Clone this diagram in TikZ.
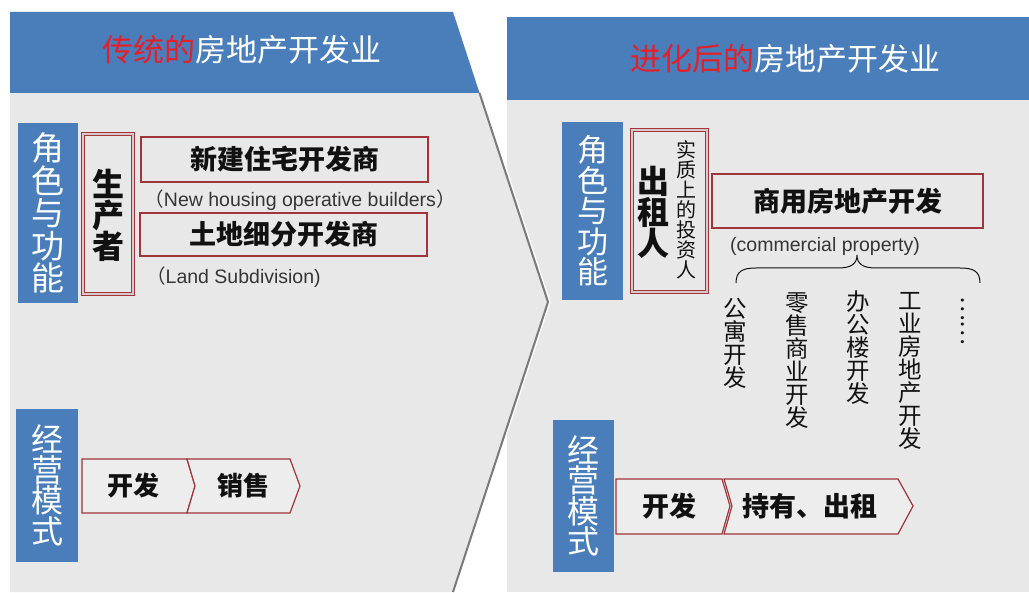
\documentclass[tikz,border=0pt]{standalone}
\usepackage{fontspec}
\setmainfont{Noto Sans CJK SC}
\newfontfamily\en{Liberation Sans}
\definecolor{hblue}{HTML}{4A7EBB}
\definecolor{bg}{HTML}{E8E8E8}
\definecolor{rbord}{HTML}{A0353A}
\definecolor{tred}{HTML}{E3202A}
\definecolor{chevfill}{HTML}{EDEDED}
\definecolor{edgec}{HTML}{7A7A7A}
\definecolor{txt}{HTML}{111111}
\newcommand\fsz[2]{\fontsize{#1}{#2}\selectfont}
\begin{document}
\begin{tikzpicture}[x=1pt,y=-1pt,
  hdrtitle/.style={text=white,inner sep=0pt,font=\fsz{31}{31}},
  bluebox/.style={fill=hblue,text=white,align=center,inner sep=0pt},
  redbox/.style={draw=rbord,line width=1.5pt,inner sep=0pt,text=txt,font=\bfseries\fsz{27}{27}},
  dbox/.style={draw=rbord,line width=1pt,double=rbord!18!bg,double distance=2pt,inner sep=0pt},
  chev/.style={draw=rbord,fill=chevfill,line width=1.2pt,line join=miter},
  chevtext/.style={inner sep=0pt,text=txt,font=\bfseries\fsz{26}{26}},
  entext/.style={inner sep=0pt,text=txt!85!white,font=\fsz{19.5}{20}},
  vtext/.style={inner sep=0pt,align=center,text=txt},
  edgeline/.style={draw=edgec,line width=2pt,line join=miter},
  braceline/.style={draw=txt,line width=1pt}
]
\useasboundingbox (0,0) rectangle (1029,593);
\fill[white] (0,0) rectangle (1029,593);
% right panel
\fill[bg] (507,100) rectangle (1029,592);
\fill[hblue] (507,17) rectangle (1029,100);
% left panel
\fill[bg] (10,12) -- (453,12) -- (548,302) -- (453,592) -- (10,592) -- cycle;
\fill[hblue] (10,12) -- (453,12) -- (479.5,93) -- (10,93) -- cycle;
\draw[white,line width=1.2pt] (481.5,93) -- (550,302) -- (455,592);
\draw[edgeline] (479.5,93) -- (548,302) -- (453,592);

% titles
\node[hdrtitle] (t1) at (242,50) {\textcolor{tred}{传统的}房地产开发业};
\node[hdrtitle] (t2) at (785,59) {\textcolor{tred}{进化后的}房地产开发业};

% ---------- left ----------
\node[bluebox,minimum width=60pt,minimum height=180pt,font=\fsz{33}{32.5}] (a1) at (48,213) {角\\色\\与\\功\\能};
\node[dbox,minimum width=50pt,minimum height=160pt] (p1) at (108,214) {};
\node[vtext,font=\bfseries\fsz{32}{31}] (p1t) at (108,215) {生\\产\\者};
\node[redbox,minimum width=287pt,minimum height=45pt] (n1) at (284.5,159.5) {新建住宅开发商};
\node[entext] (e1) at (300,200) {（{\en New housing operative builders}）};
\node[redbox,minimum width=287pt,minimum height=43pt] (n2) at (283.5,234.5) {土地细分开发商};
\node[entext,anchor=west] (e2) at (146,277) {（{\en Land Subdivision)}};

\node[bluebox,minimum width=62pt,minimum height=153pt,font=\fsz{32}{30.5}] (b1) at (47,485.5) {经\\营\\模\\式};
\path[chev] (82,459) -- (187,459) -- (195,486) -- (187,513) -- (82,513) -- cycle;
\path[chev] (187,459) -- (290,459) -- (300,486) -- (290,513) -- (187,513) -- (195,486) -- cycle;
\node[chevtext] (c1) at (133,486) {开发};
\node[chevtext] (c2) at (243,486) {销售};

% ---------- right ----------
\node[bluebox,minimum width=61pt,minimum height=178pt,font=\fsz{31}{30.5}] (a2) at (592.5,211) {角\\色\\与\\功\\能};
\node[dbox,minimum width=75pt,minimum height=162pt] (p2) at (669.5,211) {};
\node[vtext,font=\bfseries\fsz{32}{31}] (p2t) at (653,212) {出\\租\\人};
\node[vtext,font=\fsz{20}{20}] (p2s) at (686,210) {实\\质\\上\\的\\投\\资\\人};
\node[redbox,minimum width=271pt,minimum height=54pt] (n3) at (847.5,201) {商用房地产开发};
\node[entext] (e3) at (825,246) {{\en (commercial property)}};
\draw[braceline] (736,283) .. controls (736,271) and (743,268) .. (756,268) -- (838,268) .. controls (851,268) and (857,264) .. (857,255) .. controls (857,264) and (863,268) .. (876,268) -- (960,268) .. controls (973,268) and (980,271) .. (980,283);
\node[vtext,font=\fsz{23.5}{23}] (v1) at (735,343) {公\\寓\\开\\发};
\node[vtext,font=\fsz{23.5}{23}] (v2) at (797,361) {零\\售\\商\\业\\开\\发};
\node[vtext,font=\fsz{23.5}{23}] (v3) at (858,348) {办\\公\\楼\\开\\发};
\node[vtext,font=\fsz{23.5}{23}] (v4) at (910,371) {工\\业\\房\\地\\产\\开\\发};
\node[vtext,font=\fsz{23.5}{23},rotate=-90] (v5) at (963,321) {……};

\node[bluebox,minimum width=61pt,minimum height=152pt,font=\fsz{32}{30.5}] (b2) at (583.5,496) {经\\营\\模\\式};
\path[chev] (616,479) -- (722,479) -- (730,506) -- (722,534) -- (616,534) -- cycle;
\path[chev] (724,479) -- (898,479) -- (913,506) -- (898,534) -- (724,534) -- (732,506) -- cycle;
\node[chevtext,font=\bfseries\fsz{27}{27}] (c3) at (669,506) {开发};
\node[chevtext,font=\bfseries\fsz{27}{27}] (c4) at (810,506) {持有、出租};
\end{tikzpicture}
\end{document}
